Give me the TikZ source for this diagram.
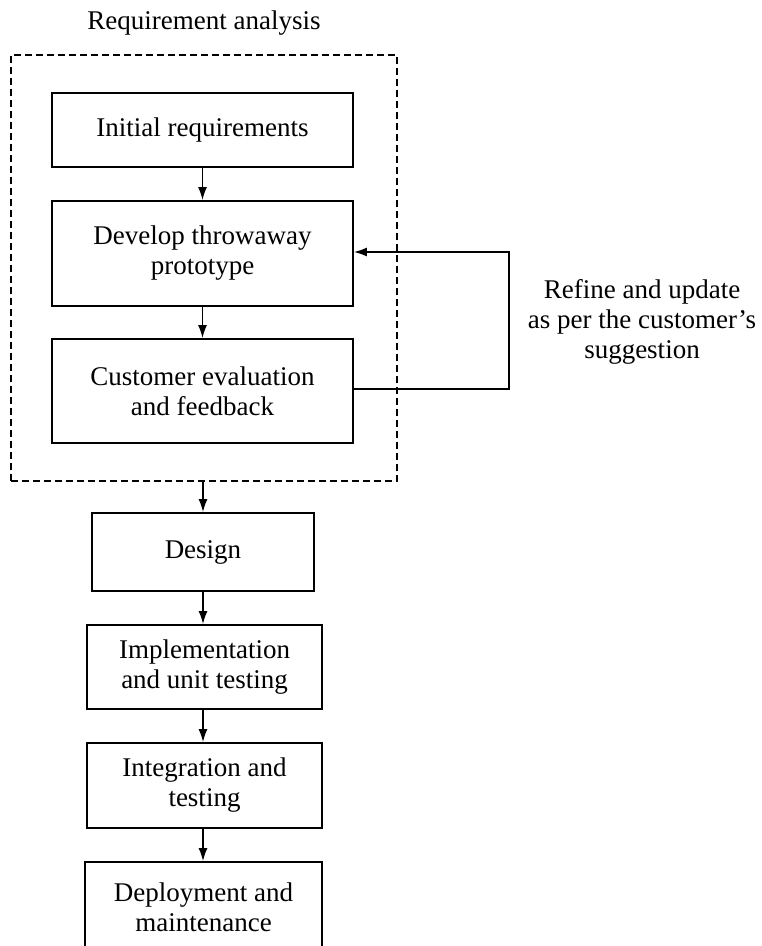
\documentclass[tikz,border=0pt]{standalone}
\usepackage{fontspec}
\setmainfont{Liberation Serif}
\usetikzlibrary{arrows.meta}
\tikzset{
  box/.style={draw, line width=1.8pt, align=center, inner sep=0pt, font=\fontsize{27}{30}\selectfont},
  lbl/.style={align=center, inner sep=0pt, font=\fontsize{27}{30}\selectfont},
  arr/.style={line width=1.6pt, -{Latex[length=13pt,width=9pt]}},
  dashbox/.style={draw, line width=1.5pt, dash pattern=on 7pt off 4pt, inner sep=0pt}
}
\begin{document}
\begin{tikzpicture}[x=1pt,y=-1pt]
\clip (0,0) rectangle (762,946);
\fill[white] (0,0) rectangle (762,946);
\node[lbl, anchor=base] (title) at (204,29) {Requirement analysis};
\node[dashbox, minimum width=386pt, minimum height=426pt] (ra) at (204,268) {};
\node[box, minimum width=301pt, minimum height=74pt] (init) at (202.5,130) {Initial requirements};
\node[box, minimum width=301pt, minimum height=105pt] (dev) at (202.5,253.5) {Develop throwaway\\prototype};
\node[box, minimum width=301pt, minimum height=104pt] (cust) at (202.5,391) {Customer evaluation\\and feedback};
\node[box, minimum width=222pt, minimum height=78pt] (design) at (203,552) {Design};
\node[box, minimum width=235pt, minimum height=84pt] (impl) at (204.5,667) {Implementation\\and unit testing};
\node[box, minimum width=235pt, minimum height=85pt] (integ) at (204.5,785.5) {Integration and\\testing};
\node[box, minimum width=237pt, minimum height=90pt] (deploy) at (203.5,907) {Deployment and\\maintenance};
\node[lbl] (refine) at (642,322) {Refine and update\\as per the customer’s\\suggestion};
\draw[arr] (init) -- (dev);
\draw[arr] (dev) -- (cust);
\draw[arr] (ra.south -| design.north) -- (design);
\draw[arr] (design.south) -- (impl.north -| design.south);
\draw[arr] (impl.south -| design.south) -- (integ.north -| design.south);
\draw[arr] (integ.south -| design.south) -- (deploy.north -| design.south);
\draw[arr] ([yshift=2pt]cust.east) -| ([xshift=155pt,yshift=1.5pt]dev.east) -- ([yshift=1.5pt]dev.east);
\end{tikzpicture}
\end{document}
